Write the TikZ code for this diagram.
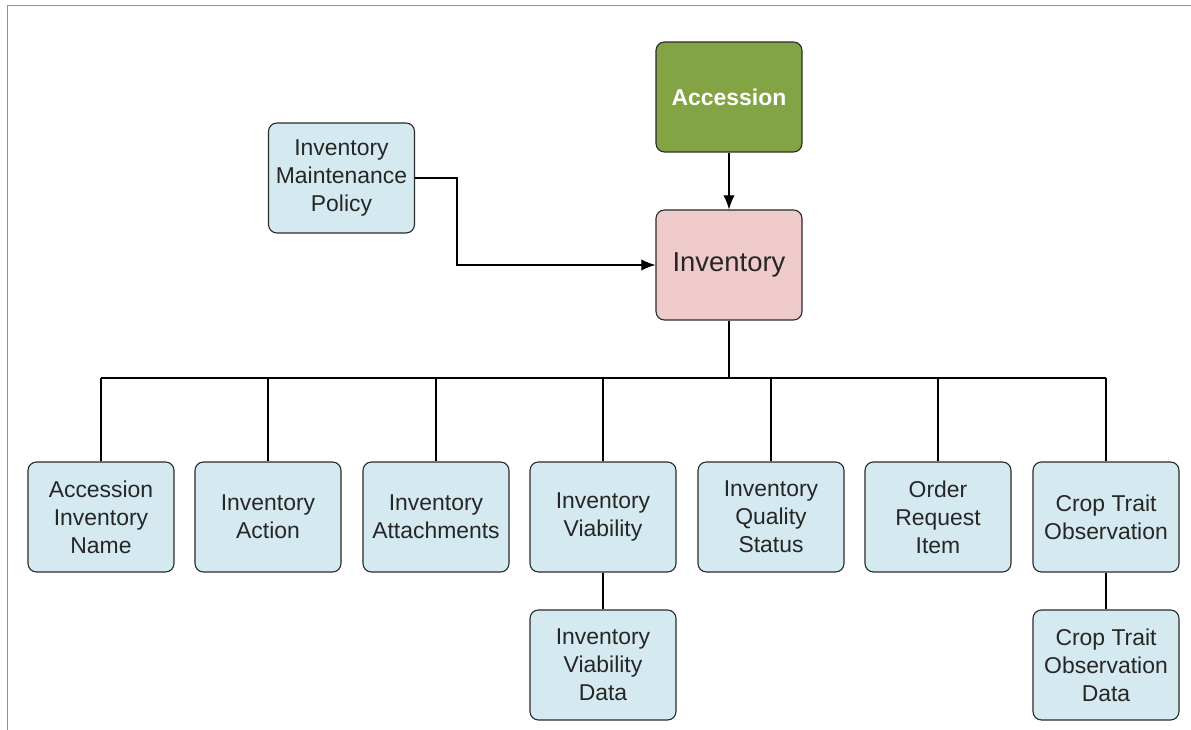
\documentclass[tikz,border=0pt]{standalone}
\usepackage{fontspec}
\setmainfont{Liberation Sans}
\usetikzlibrary{positioning, fit, shapes}
\usetikzlibrary{calc}
\usetikzlibrary{arrows.meta}

\definecolor{accgreen}{HTML}{82A444}
\definecolor{invpink}{HTML}{EECBCA}
\definecolor{tblblue}{HTML}{D4EAF0}
\definecolor{framblue}{HTML}{6F97CF}
\definecolor{boxline}{HTML}{2A2A2A}

\begin{document}
\begin{tikzpicture}[node distance=0cm,
    tbl/.style={draw=boxline, line width=0.8pt, rounded corners=6pt, fill=tblblue,
      minimum width=3.65cm, minimum height=2.75cm, inner sep=0pt, align=center,
      text=black!85, font=\fontsize{16.3}{20}\selectfont},
    link/.style={draw=black, line width=0.8pt},
    arr/.style={link, -{Latex[length=10pt,width=8pt]}}]

% Manually size the picture
\useasboundingbox (0, 0) rectangle (29.775, 18.25);
\draw[framblue, line width=1.2pt] (0.1875, 0) -- (0.1875, 18.1125) -- (29.775, 18.1125);

% Main tables
\node[tbl, fill=accgreen, text=white, font=\fontsize{16.3}{20}\selectfont\bfseries] (accession) at (18.225, 15.825) {Accession};
\node[tbl, fill=invpink, font=\fontsize{19.5}{23}\selectfont] (inventory) at (18.225, 11.625) {Inventory};
\node[tbl] (policy) at (8.5375, 13.8) {Inventory\\Maintenance\\Policy};

% Child tables
\node[tbl] (accinvname) at (2.525, 5.325) {Accession\\Inventory\\Name};
\node[tbl] (invaction) at (6.7, 5.325) {Inventory\\Action};
\node[tbl] (invattach) at (10.9, 5.325) {Inventory\\Attachments};
\node[tbl] (invviab) at (15.075, 5.325) {Inventory\\Viability};
\node[tbl] (invquality) at (19.275, 5.325) {Inventory\\Quality\\Status};
\node[tbl] (orderitem) at (23.45, 5.325) {Order\\Request\\Item};
\node[tbl] (croptrait) at (27.65, 5.325) {Crop Trait\\Observation};

\node[tbl] (invviabdata) at (15.075, 1.625) {Inventory\\Viability\\Data};
\node[tbl] (croptraitdata) at (27.65, 1.625) {Crop Trait\\Observation\\Data};

% Connectors
\draw[arr] (accession) -- (inventory);
\coordinate (bend) at (11.425, 13.8);
\draw[arr] (policy.east |- bend) -- (bend) |- (inventory.west);

\coordinate (busL) at (2.525, 8.8);
\coordinate (busR) at (27.65, 8.8);
\draw[link] (busL) -- (busR);
\draw[link] (inventory.south) -- (inventory.south |- busL);
\foreach \t in {accinvname, invaction, invattach, invviab, invquality, orderitem, croptrait}
  \draw[link] (\t.north) -- (\t.north |- busL);

\draw[link] (invviab) -- (invviabdata);
\draw[link] (croptrait) -- (croptraitdata);

\end{tikzpicture}
\end{document}
